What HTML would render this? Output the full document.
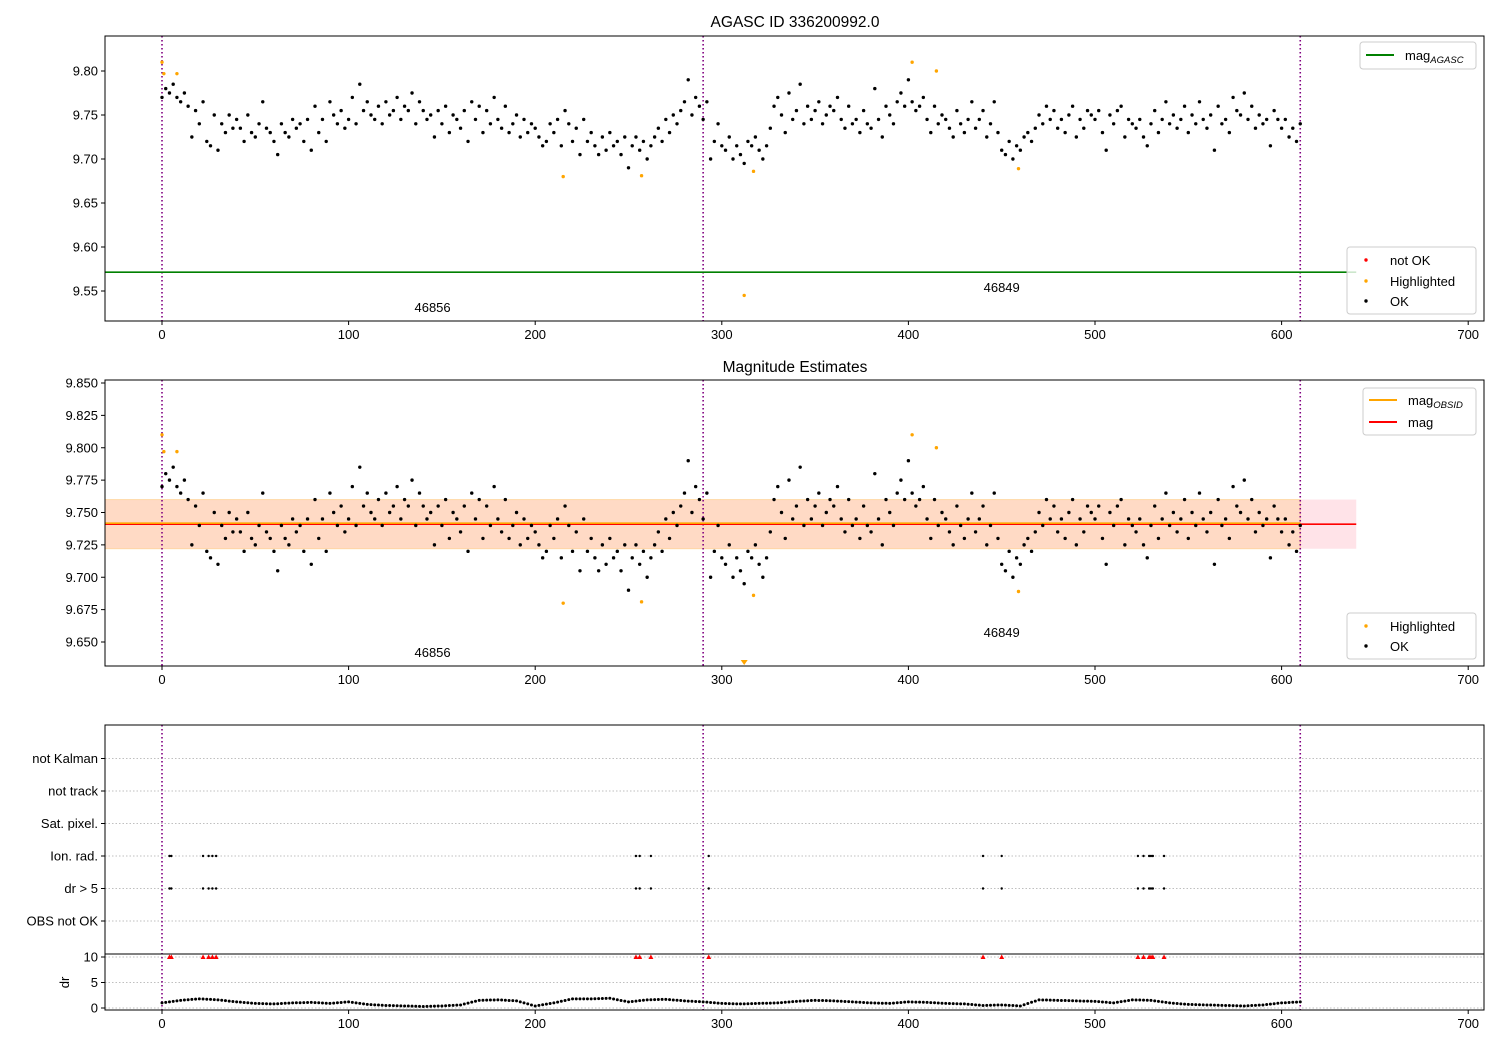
<!DOCTYPE html>
<html><head><meta charset="utf-8">
<style>
html,body{margin:0;padding:0;background:#fff;}
svg{display:block;font-family:"Liberation Sans","DejaVu Sans",sans-serif;}
</style></head>
<body>
<svg id="chart" width="1500" height="1050" viewBox="0 0 1500 1050" xmlns="http://www.w3.org/2000/svg"></svg>
<script>
// ---- data ----
const magStep = 2;
const magValues = [
9.77,9.78,9.775,9.785,9.77,9.765,9.775,9.76,9.725,9.755,
9.74,9.765,9.72,9.715,9.75,9.71,9.74,9.73,9.75,9.735,
9.745,9.735,9.72,9.75,9.73,9.725,9.74,9.765,9.735,9.73,
9.72,9.705,9.74,9.73,9.725,9.745,9.735,9.74,9.72,9.745,
9.71,9.76,9.73,9.745,9.72,9.765,9.75,9.74,9.755,9.735,
9.745,9.77,9.74,9.785,9.755,9.765,9.75,9.745,9.76,9.74,
9.765,9.75,9.755,9.77,9.745,9.76,9.755,9.775,9.74,9.765,
9.755,9.745,9.75,9.725,9.755,9.74,9.76,9.73,9.75,9.745,
9.735,9.755,9.72,9.765,9.745,9.76,9.73,9.755,9.74,9.77,
9.745,9.735,9.76,9.73,9.74,9.75,9.725,9.745,9.73,9.74,
9.735,9.725,9.715,9.72,9.74,9.73,9.745,9.715,9.755,9.74,
9.72,9.735,9.705,9.745,9.72,9.73,9.715,9.705,9.725,9.71,
9.73,9.715,9.72,9.705,9.725,9.69,9.715,9.725,9.71,9.72,
9.7,9.715,9.725,9.735,9.72,9.745,9.73,9.75,9.74,9.755,
9.765,9.79,9.75,9.77,9.76,9.745,9.765,9.7,9.72,9.74,
9.715,9.71,9.725,9.7,9.715,9.705,9.695,9.72,9.715,9.725,
9.71,9.7,9.715,9.735,9.76,9.77,9.75,9.73,9.775,9.745,
9.755,9.785,9.74,9.76,9.745,9.755,9.765,9.74,9.75,9.76,
9.755,9.77,9.745,9.735,9.76,9.74,9.745,9.73,9.755,9.74,
9.735,9.78,9.745,9.725,9.76,9.75,9.74,9.765,9.775,9.76,
9.79,9.765,9.755,9.76,9.77,9.745,9.73,9.76,9.74,9.75,
9.745,9.735,9.725,9.755,9.74,9.73,9.745,9.765,9.735,9.745,
9.755,9.725,9.74,9.765,9.73,9.71,9.705,9.72,9.7,9.715,
9.71,9.725,9.73,9.72,9.735,9.75,9.74,9.76,9.745,9.755,
9.735,9.745,9.73,9.75,9.76,9.725,9.745,9.735,9.755,9.75,
9.745,9.755,9.73,9.71,9.75,9.74,9.755,9.76,9.725,9.745,
9.74,9.735,9.745,9.725,9.715,9.74,9.755,9.73,9.745,9.765,
9.74,9.75,9.735,9.745,9.76,9.73,9.75,9.74,9.765,9.745,
9.735,9.75,9.71,9.76,9.74,9.745,9.73,9.77,9.755,9.75,
9.775,9.745,9.76,9.735,9.75,9.74,9.745,9.715,9.755,9.745,
9.735,9.745,9.725,9.735,9.72,9.74];
const hlTimes = [0,1,8,215,257,317,312,402,415,459];
const hlValues = [9.81,9.797,9.797,9.68,9.681,9.686,9.545,9.81,9.80,9.689];
const magAgasc = 9.5714;
const magMean = 9.741;
const magLow = 9.722, magHigh = 9.760;
const obsBoundaries = [0,290,610];
const obsLabels = ["46856","46849"];
const obsLabelTimes = [145,450];
const xTicks = [0,100,200,300,400,500,600,700];
const y1Ticks = [9.55,9.60,9.65,9.70,9.75,9.80];
const y2Ticks = [9.650,9.675,9.700,9.725,9.750,9.775,9.800,9.825,9.850];
const flagCats = ["OBS not OK","dr > 5","Ion. rad.","Sat. pixel.","not track","not Kalman"];
const flagTimes = [4,5,22,25,27,29,254,256,262,293,440,450,523,526,529,530,531,537];
const drStep = 10;
const drValues = [1.0,1.5,1.8,1.6,1.2,0.9,0.8,1.0,1.1,0.9,1.2,0.7,0.5,0.4,0.3,0.4,0.6,1.5,1.6,1.4,0.4,1.0,1.8,1.8,1.9,1.2,1.6,1.7,1.4,1.2,0.9,0.8,0.9,1.0,1.3,1.5,1.4,1.2,1.0,0.9,1.2,1.1,0.9,0.8,0.5,0.6,0.4,1.6,1.5,1.4,1.3,1.0,1.6,1.5,1.0,0.7,0.6,0.5,0.4,0.6,1.0,1.2];
const drTicks = [0,5,10];

// ---- helpers ----
const svg = document.getElementById('chart');
const NS = 'http://www.w3.org/2000/svg';
function mk(tag, attrs, parent){ const e=document.createElementNS(NS,tag); for(const k in attrs) e.setAttribute(k,attrs[k]); (parent||svg).appendChild(e); return e; }
function txt(s, attrs, parent){ const e=mk('text',attrs,parent); e.textContent=s; return e; }
const X0=105, X1=1484;
const xs = t => 162 + t*1.866;
const y1 = v => 71 + (9.80 - v)*880;
const y2 = v => 383 + (9.85 - v)*1295;
const yf = i => 921 - i*32.5;
const yd = v => 1008 - v*5.1;

function frame(top,bot,name){
  const r=mk('rect',{x:X0,y:top,width:X1-X0,height:bot-top,fill:'none',stroke:'#000','stroke-width':1});
   
}
function xAxis(bot,name){
  const g=mk('g',{});
   
  xTicks.forEach(t=>{ mk('line',{x1:xs(t),x2:xs(t),y1:bot,y2:bot+4,stroke:'#000'},g);
    txt(String(t),{x:xs(t),y:bot+18,'font-size':13,'text-anchor':'middle'},g); });
}
function yAxis(ticks,f,fmt,name){
  const g=mk('g',{});
   
  ticks.forEach(v=>{ mk('line',{x1:X0-4,x2:X0,y1:f(v),y2:f(v),stroke:'#000'},g);
    txt(fmt(v),{x:X0-7,y:f(v)+4.5,'font-size':13,'text-anchor':'end'},g); });
}
function vlines(top,bot){
  obsBoundaries.forEach(t=>{ const l=mk('line',{x1:xs(t),x2:xs(t),y1:top,y2:bot,stroke:'#800080','stroke-width':1.6,'stroke-dasharray':'1.5,2.5'});
      });
}
function dots(f,name,top,bot){
  const g=mk('g',{});
   
  magValues.forEach((v,i)=>{ const y=f(v); if(y>top&&y<bot) mk('circle',{cx:xs(i*magStep),cy:y,r:1.7,fill:'#000'},g); });
}
function hl(f,name,top,bot){
  const g=mk('g',{});
   
  hlTimes.forEach((t,i)=>{ const y=f(hlValues[i]);
    if(y<bot) mk('circle',{cx:xs(t),cy:y,r:1.7,fill:'#ffa500'},g);
    else mk('path',{d:`M${xs(t)-3.5},${bot-6} L${xs(t)+3.5},${bot-6} L${xs(t)},${bot-1} Z`,fill:'#ffa500'},g); });
}
function legendBox(x,y,w,h,name){
  const g=mk('g',{});
   
  mk('rect',{x:x,y:y,width:w,height:h,rx:3,fill:'#fff','fill-opacity':0.8,stroke:'#ccc'},g);
  return g;
}

// ---- titles ----
let t1=txt('AGASC ID 336200992.0',{x:795,y:27,'font-size':15.5,'text-anchor':'middle'});
 
let t2=txt('Magnitude Estimates',{x:795,y:372,'font-size':15.5,'text-anchor':'middle'});
 

// ---- panel 1 ----
vlines(36,321);
let ag=mk('line',{x1:X0,x2:xs(640),y1:y1(magAgasc),y2:y1(magAgasc),stroke:'#008000','stroke-width':1.6});
 
dots(y1,'ok-points-panel1',36,321);
hl(y1,'highlighted-points-panel1',36,330);
obsLabels.forEach((s,i)=>{ const e=txt(s,{x:xs(obsLabelTimes[i]),y:i==0?312:292,'font-size':13,'text-anchor':'middle'});
    });
frame(36,321,'panel1-axes');
xAxis(321,'panel1-x-axis');
yAxis(y1Ticks,y1,v=>v.toFixed(2),'panel1-y-axis');
let lg=legendBox(1360,42,116,27,'legend-agasc');
mk('line',{x1:1366,x2:1394,y1:55,y2:55,stroke:'#008000','stroke-width':2},lg);
let lt=txt('mag',{x:1405,y:60,'font-size':13},lg); let ts=mk('tspan',{'font-size':9.5,'font-style':'italic',dy:3},lt); ts.textContent='AGASC';
let lg2=legendBox(1347,247,129,67,'legend-status-panel1');
[['not OK','#f00',260],['Highlighted','#ffa500',281],['OK','#000',301]].forEach(a=>{
  mk('circle',{cx:1366,cy:a[2],r:1.7,fill:a[1]},lg2);
  const e=txt(a[0],{x:1390,y:a[2]+5,'font-size':13},lg2);
    });

// ---- panel 2 ----
let band2=mk('rect',{x:X0,y:y2(magHigh),width:xs(640)-X0,height:y2(magLow)-y2(magHigh),fill:'#ffc0cb','fill-opacity':0.45});
 
let band1=mk('rect',{x:X0,y:y2(magHigh),width:xs(610)-X0,height:y2(magLow)-y2(magHigh),fill:'#ffa500','fill-opacity':0.15,stroke:'#ffa500','stroke-opacity':0.25});
 
vlines(380,666);
let ml2=mk('line',{x1:X0,x2:xs(640),y1:y2(magMean),y2:y2(magMean),stroke:'#f00','stroke-width':1.6});
 
let mo=mk('line',{x1:X0,x2:xs(610),y1:y2(magMean)-1,y2:y2(magMean)-1,stroke:'#ffa500','stroke-width':1.6});
 
dots(y2,'ok-points-panel2',380,666);
hl(y2,'highlighted-points-panel2',380,666);
obsLabels.forEach((s,i)=>{ const e=txt(s,{x:xs(obsLabelTimes[i]),y:i==0?657:637,'font-size':13,'text-anchor':'middle'});
    });
frame(380,666,'panel2-axes');
xAxis(666,'panel2-x-axis');
yAxis(y2Ticks,y2,v=>v.toFixed(3),'panel2-y-axis');
let lg3=legendBox(1363,388,113,47,'legend-mag');
mk('line',{x1:1369,x2:1397,y1:400,y2:400,stroke:'#ffa500','stroke-width':2},lg3);
lt=txt('mag',{x:1408,y:405,'font-size':13},lg3); ts=mk('tspan',{'font-size':9.5,'font-style':'italic',dy:3},lt); ts.textContent='OBSID';
mk('line',{x1:1369,x2:1397,y1:422,y2:422,stroke:'#f00','stroke-width':2},lg3);
txt('mag',{x:1408,y:427,'font-size':13},lg3);
let lg4=legendBox(1347,613,129,46,'legend-status-panel2');
[['Highlighted','#ffa500',626],['OK','#000',646]].forEach(a=>{
  mk('circle',{cx:1366,cy:a[2],r:1.7,fill:a[1]},lg4);
  const e=txt(a[0],{x:1390,y:a[2]+5,'font-size':13},lg4);
    });

// ---- panel 3 flags ----
const fg=mk('g',{});
 
flagCats.forEach((c,i)=>{ mk('line',{x1:X0,x2:X1,y1:yf(i),y2:yf(i),stroke:'#aaa','stroke-width':0.8,'stroke-dasharray':'1.5,2'},fg);
  mk('line',{x1:X0-4,x2:X0,y1:yf(i),y2:yf(i),stroke:'#000'},fg);
  const e=txt(c,{x:X0-7,y:yf(i)+4.5,'font-size':13,'text-anchor':'end'},fg);
    });
drTicks.forEach(v=>{ mk('line',{x1:X0,x2:X1,y1:yd(v),y2:yd(v),stroke:'#aaa','stroke-width':0.8,'stroke-dasharray':'1.5,2'},fg);
  mk('line',{x1:X0-4,x2:X0,y1:yd(v),y2:yd(v),stroke:'#000'},fg);
  txt(String(v),{x:X0-7,y:yd(v)+4.5,'font-size':13,'text-anchor':'end'},fg); });
let dl=txt('dr',{x:0,y:0,'font-size':13,'text-anchor':'middle',transform:`translate(69,${yd(5)}) rotate(-90)`});
 
vlines(725,1010);
flagTimes.forEach(t=>{
  [1,2].forEach(i=>mk('circle',{cx:xs(t),cy:yf(i),r:1.2,fill:'#000'},fg));
  const tr=mk('path',{d:`M${xs(t)-2.5},${yd(10)+2} L${xs(t)+2.5},${yd(10)+2} L${xs(t)},${yd(10)-2.5} Z`,fill:'#f00'});
   
});
const dg=mk('g',{});
 
drValues.forEach((v,i)=>{ if(i<drValues.length-1){ const n=drValues[i+1];
  for(let k=0;k<5;k++){ const f=k/5; mk('circle',{cx:xs((i+f)*drStep),cy:yd(v+(n-v)*f),r:1.5,fill:'#000'},dg);} }
  else mk('circle',{cx:xs(i*drStep),cy:yd(v),r:1.5,fill:'#000'},dg); });
let sep=mk('line',{x1:X0,x2:X1,y1:954,y2:954,stroke:'#000','stroke-width':1});
 
frame(725,1010,'panel3-axes');
xAxis(1010,'panel3-x-axis');
</script>
</body></html>
